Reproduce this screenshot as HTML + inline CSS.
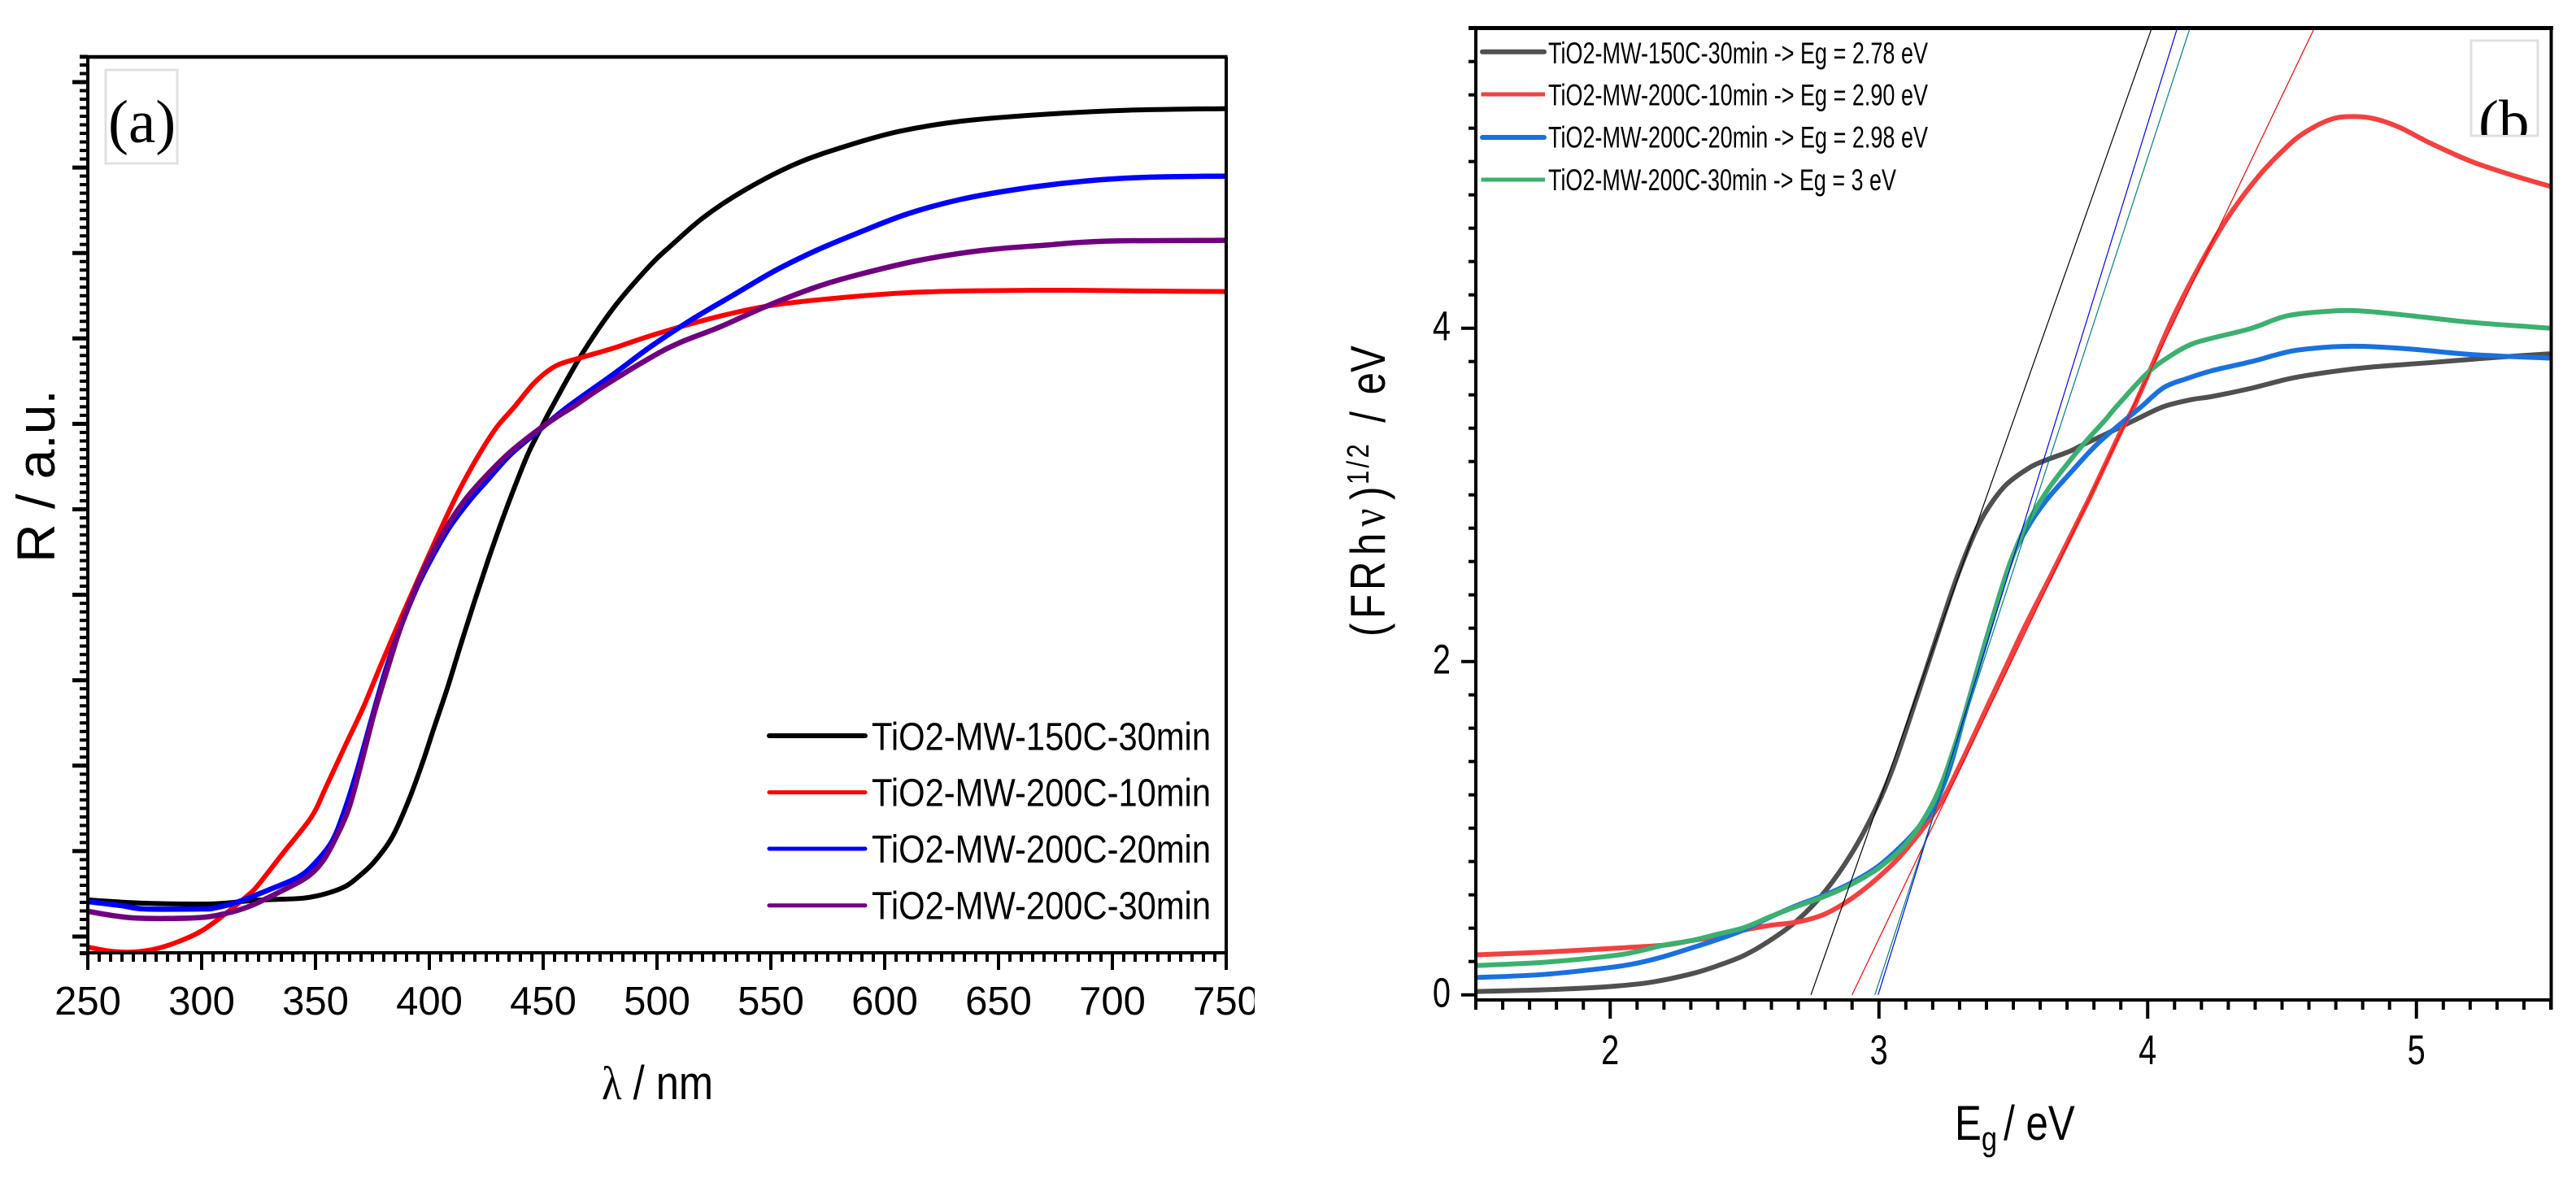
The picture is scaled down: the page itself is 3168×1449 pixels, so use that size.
<!DOCTYPE html>
<html lang="en">
<head>
<meta charset="utf-8">
<title>TiO2 reflectance and Tauc plots</title>
<style>
html,body{margin:0;padding:0;background:#fff;width:3168px;height:1449px;overflow:hidden}
svg{display:block}
text{font-family:"Liberation Sans",sans-serif;fill:#000}
.serif{font-family:"Liberation Serif",serif}
</style>
</head>
<body>
<svg id="chart" xmlns="http://www.w3.org/2000/svg" width="3168" height="1449" viewBox="0 0 3168 1449">
  <defs>
    <clipPath id="clip-a"><rect x="108" y="70" width="1400" height="1102"/></clipPath>
    <clipPath id="clip-b"><rect x="1815" y="34" width="1322" height="1196"/></clipPath>
    <clipPath id="clip-ticklabels-a"><rect x="0" y="1200" width="1543" height="70"/></clipPath>
    <clipPath id="clip-label-b"><rect x="3038" y="49" width="72" height="117"/></clipPath>
  </defs>
  <rect width="3168" height="1449" fill="#fff"/>

  <g id="panel-a">
    <g id="curves-a" clip-path="url(#clip-a)"></g>
    <g id="axes-a"></g>
    <g id="xlabels-a" clip-path="url(#clip-ticklabels-a)"></g>
    <text transform="translate(67,692) rotate(-90)" font-size="66">R / a.u.</text>
    <text x="740" y="1352" font-size="58" textLength="137" lengthAdjust="spacingAndGlyphs"><tspan class="serif">λ</tspan> / nm</text>
    <rect x="130" y="86" width="88" height="115" fill="#fff" stroke="#e0e0e0" stroke-width="3"/>
    <text class="serif" x="133" y="175" font-size="75">(a)</text>
    <g>
      <g>
        <line x1="946" x2="1064" y1="905" y2="905" stroke="#000" stroke-width="6" stroke-linecap="round"/>
        <text x="1072" y="922.6" font-size="48" textLength="417" lengthAdjust="spacingAndGlyphs">TiO2-MW-150C-30min</text>
      </g>
      <g>
        <line x1="946" x2="1064" y1="974.6" y2="974.6" stroke="#f00" stroke-width="5" stroke-linecap="round"/>
        <text x="1072" y="991.5" font-size="48" textLength="417" lengthAdjust="spacingAndGlyphs">TiO2-MW-200C-10min</text>
      </g>
      <g>
        <line x1="946" x2="1064" y1="1044" y2="1044" stroke="#00f" stroke-width="5" stroke-linecap="round"/>
        <text x="1072" y="1061" font-size="48" textLength="417" lengthAdjust="spacingAndGlyphs">TiO2-MW-200C-20min</text>
      </g>
      <g>
        <line x1="946" x2="1064" y1="1113.7" y2="1113.7" stroke="#700080" stroke-width="5" stroke-linecap="round"/>
        <text x="1072" y="1130.5" font-size="48" textLength="417" lengthAdjust="spacingAndGlyphs">TiO2-MW-200C-30min</text>
      </g>
    </g>
  </g>

  <g id="panel-b">
    <g id="curves-b" clip-path="url(#clip-b)"></g>
    <g id="tangents-b" clip-path="url(#clip-b)"></g>
    <g id="axes-b"></g>
    <g id="labels-b"></g>
    <text transform="translate(1703,783) rotate(-90) scale(0.82,1)" font-size="60"><tspan x="0">(</tspan><tspan x="27">F</tspan><tspan x="69.5">R</tspan><tspan x="122">h</tspan><tspan x="165" class="serif">ν</tspan><tspan x="205">)</tspan><tspan x="228" dy="-20" font-size="38" letter-spacing="4">1/2</tspan><tspan x="321" dy="20">/</tspan><tspan x="363">eV</tspan></text>
    <text transform="translate(2404,1402) scale(0.82,1)" font-size="60">E<tspan dy="13" font-size="42">g</tspan><tspan dy="-13" dx="10">/ eV</tspan></text>
    <rect x="3039" y="50" width="82" height="117" fill="#fff" stroke="#e0e0e0" stroke-width="3"/>
    <g clip-path="url(#clip-label-b)">
      <text class="serif" x="3048" y="175" font-size="75">(b)</text>
    </g>
    <g>
      <g>
        <line x1="1823" x2="1899" y1="63.7" y2="63.7" stroke="#505050" stroke-width="6" stroke-linecap="round"/>
        <text x="1904" y="78" font-size="37" textLength="467" lengthAdjust="spacingAndGlyphs">TiO2-MW-150C-30min -&gt; Eg = 2.78 eV</text>
      </g>
      <g>
        <line x1="1821.5" x2="1900" y1="116" y2="116" stroke="#f44040" stroke-width="5"/>
        <text x="1904" y="129.5" font-size="37" textLength="467" lengthAdjust="spacingAndGlyphs">TiO2-MW-200C-10min -&gt; Eg = 2.90 eV</text>
      </g>
      <g>
        <line x1="1823" x2="1899" y1="169" y2="169" stroke="#1a70e0" stroke-width="6" stroke-linecap="round"/>
        <text x="1904" y="181.5" font-size="37" textLength="467" lengthAdjust="spacingAndGlyphs">TiO2-MW-200C-20min -&gt; Eg = 2.98 eV</text>
      </g>
      <g>
        <line x1="1821.5" x2="1900" y1="221" y2="221" stroke="#3cb070" stroke-width="5"/>
        <text x="1904" y="234" font-size="37" textLength="428" lengthAdjust="spacingAndGlyphs">TiO2-MW-200C-30min -&gt; Eg = 3 eV</text>
      </g>
    </g>
  </g>
</svg>

<script>
// ---- Panel (a): reflectance (arbitrary units) vs wavelength (nm) ----
const nmBlack = [250,275,300,310,321,330,344.5,353.6,362.8,368.2,375.5,383.7,391,397.4,401.9,407.9,413.8,419.8,425.7,431.7,437.6,443.6,449.5,454,466.5,481.1,497.1,506.2,520.8,539,560.9,582.7,606.4,633.8,670.2,706.6,750];
const rBlack = [32.5,30.5,30,30.5,32,32.7,33.6,36,40.6,46,55.5,71.2,94,118.5,137.7,162.7,189.5,216,241,265,287,307.7,324,336,367,397,423,435,452.7,469.5,485.2,496,505.2,511.5,515.7,518.2,519.2];
const nmRed = [250,260,270,280,290,300,310,315.3,320,324.4,335.4,348.2,354.3,362.6,371,379.3,387.6,396,404.3,412.6,421,429.3,437.5,446.4,455.6,466.5,481.1,497.1,515.3,533.5,551.8,579.1,610.1,642.9,679.3,715.8,750];
const rRed = [3.5,1,0.5,2.5,7,13.5,23.5,29.5,35,41,60.7,83.5,101,126,151,179,206,232.7,258.5,283,304.5,322.7,336,351,361,366,372,379.5,387,393.5,398.5,402.7,406,407.2,407.5,407,406.7];
const nmBlue = [250,265,275,300,305.3,315.3,330,342.7,350,357.3,362.5,368.2,375.1,381.1,387.6,394.8,401.9,409,417.4,425.7,435.3,447.2,461,481,497.1,515.3,533.5,551.8,570,588.2,610.1,633.8,661.1,688.4,715.8,750];
const rBlue = [31.5,29,27,27,27.5,31,39,46.7,55.5,68.6,86.5,111.5,146,175,201,225.5,245,262,277.7,291,306,320.2,336,356,372.7,389.5,404.5,419.5,432,442.7,454.5,463.5,470.2,474.7,477,477.7];
const nmPurple = [250,269.7,297,309.9,320.8,333.6,346.4,353.6,359.1,364.6,370,375.7,381.7,387.6,394.8,401.9,409,416.2,424.5,435.3,447.2,456.7,464.4,475.6,497.1,509.9,528.1,548.1,570,588.2,615.5,642.9,670.2,697.5,750];
const rPurple = [25.5,21.5,21.5,24,28.5,37,46.7,57.2,71.2,88.7,116,147,175,201,227,248,265,279.5,292.7,307.7,321,330.2,337,347.7,366,375.2,385.2,397.7,409.5,417,426,432,435.2,437.7,438.2];
const xTickValuesA = [250,300,350,400,450,500,550,600,650,700,750];
const yFirstMajorA = 10;
const yMajorStepA = 52.55;

// ---- Panel (b): (F R h nu)^(1/2) vs energy (eV) ----
const egGray = [1.5,1.75,2,2.15,2.3,2.4,2.5,2.6,2.7,2.8,2.9,2.99,3.054,3.138,3.22,3.289,3.356,3.406,3.473,3.557,3.616,3.708,3.758,3.859,3.96,4.06,4.164,4.239,4.387,4.536,4.685,4.833,5.056,5.28,5.5];
const fGray = [0.02,0.03,0.05,0.075,0.125,0.175,0.238,0.332,0.452,0.622,0.853,1.124,1.37,1.77,2.17,2.5,2.77,2.92,3.06,3.16,3.205,3.26,3.3,3.376,3.455,3.53,3.572,3.59,3.64,3.7,3.739,3.767,3.794,3.823,3.847];
const egRed = [1.5,1.75,2,2.2,2.3,2.4,2.5,2.6,2.7,2.8,2.9,3,3.1,3.221,3.305,3.406,3.473,3.54,3.641,3.742,3.792,3.859,3.909,3.949,4.016,4.105,4.224,4.313,4.417,4.506,4.58,4.685,4.774,4.848,4.937,5.056,5.205,5.353,5.5];
const fRed = [0.24,0.256,0.278,0.298,0.325,0.35,0.389,0.418,0.438,0.486,0.58,0.708,0.87,1.13,1.39,1.74,1.97,2.2,2.52,2.847,3.01,3.24,3.41,3.53,3.775,4.1,4.465,4.7,4.92,5.07,5.17,5.255,5.27,5.255,5.205,5.107,5,4.92,4.85];
const egBlue = [1.5,1.75,2,2.1,2.2,2.3,2.4,2.5,2.6,2.7,2.8,2.9,3,3.1,3.16,3.205,3.263,3.322,3.406,3.49,3.557,3.624,3.708,3.809,3.909,3.977,4.06,4.15,4.239,4.387,4.536,4.685,4.8,4.98,5.205,5.5];
const fBlue = [0.104,0.122,0.164,0.19,0.23,0.28,0.332,0.392,0.47,0.54,0.6,0.675,0.775,0.92,1.03,1.13,1.36,1.7,2.17,2.6,2.815,2.97,3.124,3.3,3.44,3.53,3.644,3.7,3.745,3.8,3.863,3.888,3.891,3.875,3.842,3.82];
const egGreen = [1.5,1.75,2,2.1,2.2,2.3,2.4,2.5,2.6,2.7,2.8,2.9,3,3.1,3.18,3.238,3.305,3.389,3.473,3.54,3.624,3.708,3.775,3.842,3.884,4,4.09,4.164,4.239,4.387,4.521,4.685,4.8,4.98,5.205,5.5];
const fGreen = [0.176,0.195,0.233,0.26,0.298,0.325,0.364,0.404,0.472,0.534,0.592,0.665,0.762,0.904,1.09,1.287,1.61,2.07,2.52,2.79,3.02,3.2,3.33,3.449,3.53,3.733,3.84,3.905,3.94,4,4.075,4.103,4.103,4.075,4.035,4];
const tangentStartEg = [2.747,2.9,2.997,2.985];
const tangentEndEg = [4.015,4.62,4.11,4.157];
const tangentTopValue = 5.8;
const xTickLabelsB = [2,3,4,5];
const yTickLabelsB = [0,2,4];

// ---- Axis functions ----
const xA = nm => 108 + (nm - 250) * 2.8;
const yA = r => 1172 - r * 2;
const xB = e => 1815 + (e - 1.5) * 330.5;
const yB = v => 1223.7 - v * 205;

const NS = 'http://www.w3.org/2000/svg';
function mk(tag, parent) {
  const el = document.createElementNS(NS, tag);
  parent.appendChild(el);
  return el;
}
function smoothPath(pts) {
  let d = 'M' + pts[0][0].toFixed(2) + ' ' + pts[0][1].toFixed(2);
  for (let i = 0; i < pts.length - 1; i++) {
    const p0 = pts[Math.max(i - 1, 0)], p1 = pts[i], p2 = pts[i + 1], p3 = pts[Math.min(i + 2, pts.length - 1)];
    const c1x = p1[0] + (p2[0] - p0[0]) / 6, c1y = p1[1] + (p2[1] - p0[1]) / 6;
    const c2x = p2[0] - (p3[0] - p1[0]) / 6, c2y = p2[1] - (p3[1] - p1[1]) / 6;
    d += 'C' + c1x.toFixed(2) + ' ' + c1y.toFixed(2) + ' ' + c2x.toFixed(2) + ' ' + c2y.toFixed(2) + ' ' + p2[0].toFixed(2) + ' ' + p2[1].toFixed(2);
  }
  return d;
}
function drawCurve(parent, xs, ys, sx, sy, color, width, name) {
  const p = mk('path', parent);
  
  
  p.setAttribute('d', smoothPath(xs.map((x, i) => [sx(x), sy(ys[i])])));
  p.setAttribute('fill', 'none');
  p.setAttribute('stroke', color);
  p.setAttribute('stroke-width', width);
  p.setAttribute('stroke-linejoin', 'round');
}
function drawLine(parent, x1, y1, x2, y2, width, name) {
  const l = mk('line', parent);
  
  
  l.setAttribute('x1', x1);
  l.setAttribute('y1', y1);
  l.setAttribute('x2', x2);
  l.setAttribute('y2', y2);
  l.setAttribute('stroke', '#000');
  l.setAttribute('stroke-width', width);
  return l;
}

// ---- Panel (a) marks ----
const curvesA = document.getElementById('curves-a');
drawCurve(curvesA, nmBlack, rBlack, xA, yA, '#000000', 6, 'curve-150c-30min');
drawCurve(curvesA, nmRed, rRed, xA, yA, '#ff0000', 6, 'curve-200c-10min');
drawCurve(curvesA, nmBlue, rBlue, xA, yA, '#0000ff', 6.5, 'curve-200c-20min');
drawCurve(curvesA, nmPurple, rPurple, xA, yA, '#700080', 6.5, 'curve-200c-30min');

const axesA = document.getElementById('axes-a');
drawLine(axesA, 98, yA(0), 1509.5, yA(0), 4, 'x-axis-line-a');
drawLine(axesA, 98, 70, 1509.5, 70, 4.5, 'top-axis-line-a');
drawLine(axesA, xA(250), 70, xA(250), 1193, 4, 'y-axis-line-a');
drawLine(axesA, xA(750), 70, xA(750), 1193, 4, 'right-axis-line-a');
for (let nm = 250; nm <= 750; nm += 5) {
  const isMajor = xTickValuesA.includes(nm);
  drawLine(axesA, xA(nm), yA(0), xA(nm), isMajor ? 1193 : 1183, 4, isMajor ? 'x-major-tick-a' : 'x-minor-tick-a');
}
for (let i = -2; i <= 103; i++) {
  const isMajor = i % 10 === 0;
  const y = yA(yFirstMajorA + i * yMajorStepA / 10);
  drawLine(axesA, isMajor ? 89 : 98, y, xA(250), y, isMajor ? 5 : 4, isMajor ? 'y-major-tick-a' : 'y-minor-tick-a');
}
const xLabelsA = document.getElementById('xlabels-a');
xTickValuesA.forEach(v => {
  const t = mk('text', xLabelsA);
  
  
  t.setAttribute('x', xA(v));
  t.setAttribute('y', 1248);
  t.setAttribute('text-anchor', 'middle');
  t.setAttribute('font-size', 49);
  t.textContent = v;
});

// ---- Panel (b) marks ----
const curvesB = document.getElementById('curves-b');
drawCurve(curvesB, egGray, fGray, xB, yB, '#505050', 6, 'tauc-curve-150c-30min');
drawCurve(curvesB, egRed, fRed, xB, yB, '#f44040', 6, 'tauc-curve-200c-10min');
drawCurve(curvesB, egBlue, fBlue, xB, yB, '#1a70e0', 6, 'tauc-curve-200c-20min');
drawCurve(curvesB, egGreen, fGreen, xB, yB, '#3cb070', 6, 'tauc-curve-200c-30min');

const tangentColors = ['#000000', '#ff0000', '#0000ff', '#008080'];
const tangentNames = ['tangent-150c-30min', 'tangent-200c-10min', 'tangent-200c-20min', 'tangent-200c-30min'];
const tangentsB = document.getElementById('tangents-b');
tangentStartEg.forEach((e0, i) => {
  const l = mk('line', tangentsB);
  
  
  l.setAttribute('x1', xB(e0));
  l.setAttribute('y1', yB(0));
  l.setAttribute('x2', xB(tangentEndEg[i]));
  l.setAttribute('y2', yB(tangentTopValue));
  l.setAttribute('stroke', tangentColors[i]);
  l.setAttribute('stroke-width', 1.2);
});

const axesB = document.getElementById('axes-b');
drawLine(axesB, 1813, 1230, 3139, 1230, 4, 'x-axis-line-b');
drawLine(axesB, 1806, 34.5, 3140, 34.5, 5, 'top-axis-line-b');
drawLine(axesB, xB(1.5), 34, xB(1.5), 1242, 4, 'y-axis-line-b');
drawLine(axesB, 3137.5, 34, 3137.5, 1242, 4, 'right-axis-line-b');
for (let i = 0; i <= 40; i++) {
  const isMajor = (i + 5) % 10 === 0;
  const x = xB(1.5 + i / 10);
  drawLine(axesB, x, 1230, x, isMajor ? 1253 : 1242, 4, isMajor ? 'x-major-tick-b' : 'x-minor-tick-b');
}
for (let i = 0; i <= 28; i++) {
  const isMajor = i % 10 === 0 && i <= 20;
  const y = yB(i * 0.2);
  drawLine(axesB, isMajor ? 1797 : 1806, y, xB(1.5), y, 4, isMajor ? 'y-major-tick-b' : 'y-minor-tick-b');
}
const labelsB = document.getElementById('labels-b');
xTickLabelsB.forEach(v => {
  const t = mk('text', labelsB);
  
  
  t.setAttribute('transform', 'translate(' + xB(v) + ',1309) scale(0.78,1)');
  t.setAttribute('text-anchor', 'middle');
  t.setAttribute('font-size', 51);
  t.textContent = v;
});
yTickLabelsB.forEach(v => {
  const t = mk('text', labelsB);
  
  
  t.setAttribute('transform', 'translate(1784,' + (yB(v) + 15) + ') scale(0.78,1)');
  t.setAttribute('text-anchor', 'end');
  t.setAttribute('font-size', 51);
  t.textContent = v;
});
</script>
</body>
</html>
